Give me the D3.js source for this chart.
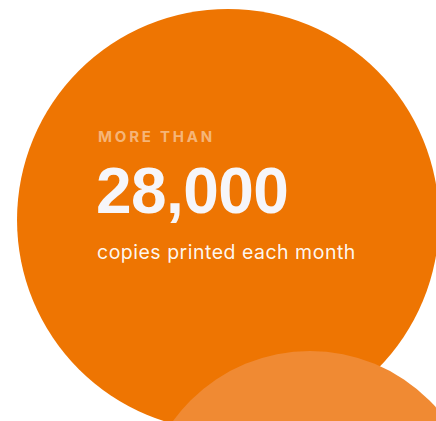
<!DOCTYPE html>
<html>
<head>
<meta charset="utf-8">
<script src="https://cdn.jsdelivr.net/npm/d3@7/dist/d3.min.js"></script>
<style>
html,body{margin:0;padding:0;background:#fff;overflow:hidden;}
</style>
</head>
<body>
<svg id="chart" width="436" height="421"></svg>
<script>
const eyebrow = ["MORE THAN"];
const statValue = [28000];
const caption = ["copies printed each month"];
const bubbles = ["main", "accent"];
const bubbleSize = [211, 169];

const svg = d3.select("#chart");
const W = 436, H = 421;

const xs = d3.scaleLinear().domain([0, 1]).range([0, W]);
const ys = d3.scaleLinear().domain([0, 1]).range([0, H]);
const rs = d3.scaleLinear().domain([0, 1]).range([0, 1]);
const color = d3.scaleOrdinal().domain(bubbles).range(["#EE7502", "#F08A33"]);
const cx = d3.scaleOrdinal().domain(bubbles).range([xs(0.523), xs(0.711)]);
const cy = d3.scaleOrdinal().domain(bubbles).range([ys(0.5226), ys(1.235)]);

svg.selectAll("circle.bubble").data(bubbles).join("circle")
  .attr("class", "bubble")
  .attr("cx", d => cx(d))
  .attr("cy", d => cy(d))
  .attr("r", (d, i) => rs(bubbleSize[i]))
  .attr("fill", d => color(d));

const fmt = d3.format(",");
const tx = 98;

svg.append("text")
  .attr("x", tx).attr("y", 141.5)
  .attr("font-family", "Inter, 'Open Sans', sans-serif")
  .attr("font-weight", 700)
  .attr("font-size", 15)
  .attr("letter-spacing", 2.8)
  .attr("fill", "#ffffff").attr("fill-opacity", 0.48)
  .text(eyebrow[0]);

svg.append("text")
  .attr("x", tx - 2).attr("y", 213)
  .attr("font-family", "'Liberation Sans', Arial, sans-serif")
  .attr("font-weight", 700)
  .attr("font-size", 64)
  .attr("letter-spacing", -0.6)
  .attr("fill", "#F6F6FA")
  .text(fmt(statValue[0]));

svg.append("text")
  .attr("x", tx - 1).attr("y", 258.5)
  .attr("font-family", "Inter, 'Open Sans', sans-serif")
  .attr("font-weight", 400)
  .attr("font-size", 19.5)
  .attr("letter-spacing", 0.5)
  .attr("fill", "#ffffff").attr("fill-opacity", 0.95)
  .text(caption[0]);
</script>
</body>
</html>
